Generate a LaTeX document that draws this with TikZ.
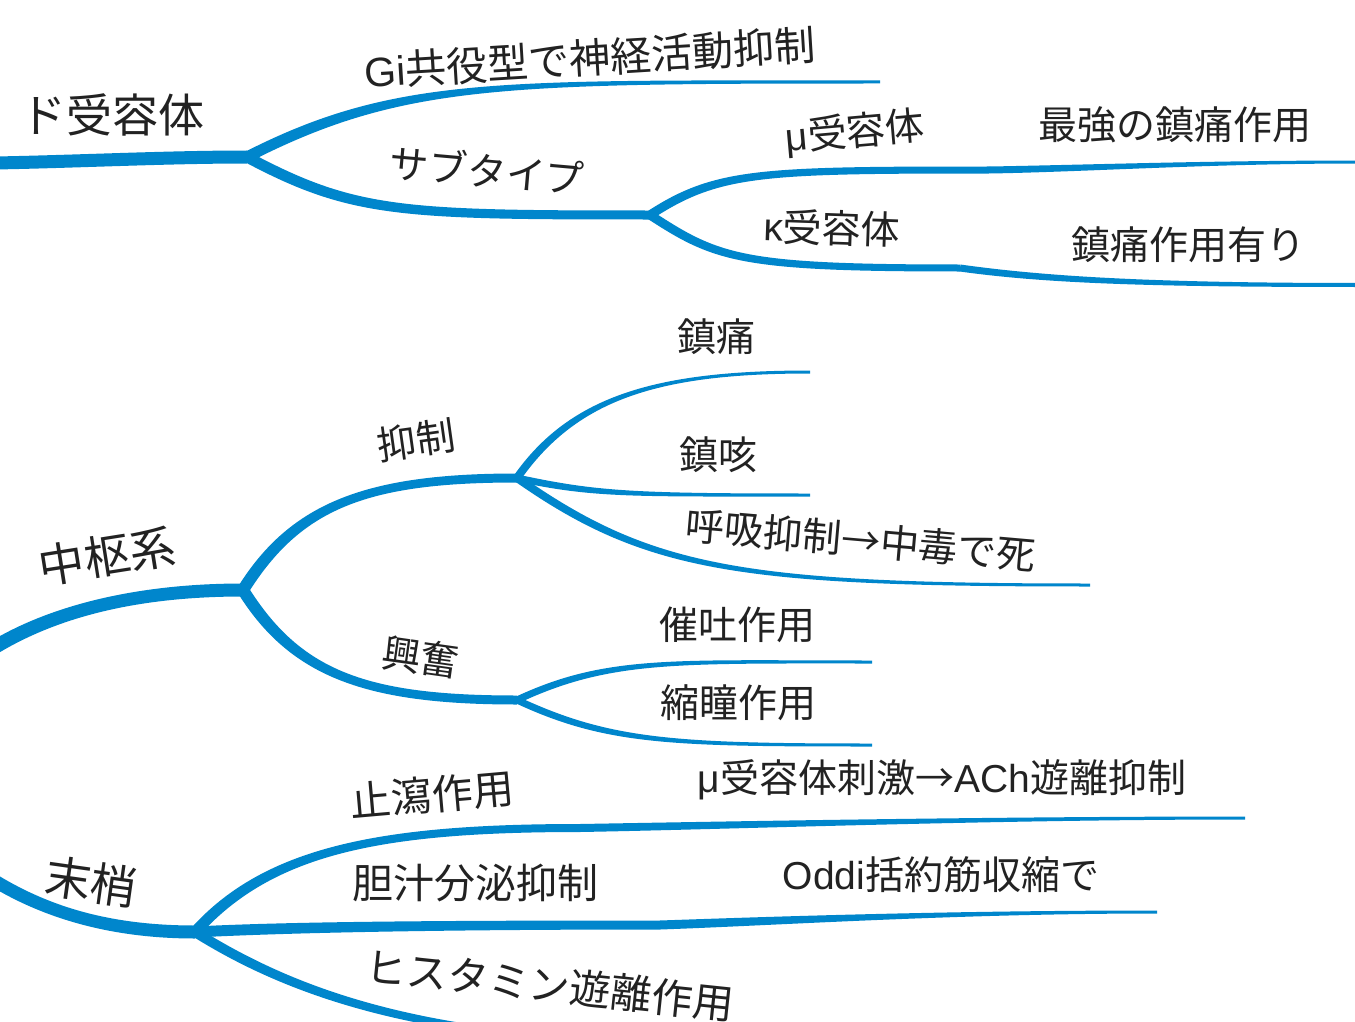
\documentclass[tikz,border=0pt]{standalone}
\usepackage{fontspec}
\setmainfont{Liberation Sans}
\newfontfamily\cjk{Noto Sans CJK JP}
\newfontfamily\lat{Liberation Sans}
\usetikzlibrary{calc}
\definecolor{mmblue}{RGB}{0,134,204}
\definecolor{mmtext}{RGB}{34,34,34}
\tikzset{
  brc/.style={fill=mmblue},
  lbl/.style={inner sep=0pt, text=mmtext, font=\cjk\fontsize{39}{44}\selectfont},
  lblb/.style={lbl, font=\cjk\fontsize{41}{46}\selectfont},
  biglbl/.style={lbl, font=\cjk\fontsize{46}{52}\selectfont},
}
% tapered branch: #1 start, #2 end, #3 start angle, #4 start handle, #5 end handle, #6 start width, #7 end width
\newcommand\tbr[7]{%
  \fill[brc] ($(#1)+(#3+90:#6/2)$)
    .. controls ($(#1)+(#3:#4)+(#3+90:#6/2)$) and ($(#2)+(-#5,#7/2)$)
    .. ($(#2)+(0,#7/2)$)
    -- ($(#2)+(0,-#7/2)$)
    .. controls ($(#2)+(-#5,-#7/2)$) and ($(#1)+(#3:#4)+(#3-90:#6/2)$)
    .. ($(#1)+(#3-90:#6/2)$) -- cycle;}
\begin{document}
\begin{tikzpicture}[x=1pt,y=-1pt]
\clip (0,0) rectangle (1355,1022);
\fill[white] (0,0) rectangle (1355,1022);
% ---------- coordinates ----------
\coordinate (r1) at (-5,163);
\coordinate (j1) at (247,157);
\coordinate (gi) at (880,82);
\coordinate (j2) at (650,215);
\coordinate (mu1) at (990,170);
\coordinate (mu2) at (1360,162);
\coordinate (ka1) at (960,268);
\coordinate (ka2) at (1360,285);
\coordinate (r2) at (-10,650);
\coordinate (j3) at (243,590);
\coordinate (j4) at (517,478);
\coordinate (j5) at (517,700);
\coordinate (t1) at (810,372);
\coordinate (t2) at (810,495);
\coordinate (t3) at (1090,585);
\coordinate (e1) at (872,662);
\coordinate (e2) at (872,745);
\coordinate (r3) at (-10,878);
\coordinate (j6) at (195,932);
\coordinate (p1a) at (580,828);
\coordinate (p1b) at (1245,818);
\coordinate (p2a) at (660,925);
\coordinate (p2b) at (1157,912);
\coordinate (p3) at (680,1042);
% ---------- branches ----------
\tbr{r1}{j1}{-1}{80}{80}{13}{13}
\tbr{j1}{gi}{-27}{170}{380}{11}{3}
\tbr{j1}{j2}{28}{120}{250}{11}{9}
\tbr{j2}{mu1}{-33}{80}{230}{9}{7}
\tbr{mu1}{mu2}{-1}{100}{150}{7}{3}
\tbr{j2}{ka1}{33}{80}{220}{9}{7}
\tbr{ka1}{ka2}{8}{90}{200}{7}{4}
\tbr{r2}{j3}{-32}{70}{110}{14}{13}
\tbr{j3}{j4}{-58}{100}{150}{12}{9}
\tbr{j3}{j5}{58}{100}{150}{12}{9}
\tbr{j4}{t1}{-55}{100}{150}{8}{3}
\tbr{j4}{t2}{12}{80}{180}{7}{3}
\tbr{j4}{t3}{35}{160}{350}{8}{3}
\tbr{j5}{e1}{-25}{100}{200}{7}{3}
\tbr{j5}{e2}{25}{100}{200}{7}{3}
\tbr{r3}{j6}{32}{60}{90}{13}{13}
\tbr{j6}{p1a}{-48}{110}{200}{11}{8}
\tbr{p1a}{p1b}{-1}{150}{250}{8}{3}
\tbr{j6}{p2a}{-3}{100}{200}{11}{9}
\tbr{p2a}{p2b}{-2}{120}{200}{9}{3}
\tbr{j6}{p3}{32}{110}{260}{10}{7}
% ---------- labels ----------
\node[biglbl] (n1) at (112,115) {ド受容体};
\node[lblb, rotate=3.5] (n2) at (590,58) {{\lat Gi}共役型で神経活動抑制};
\node[lbl, rotate=-5] (n3) at (487,170) {サブタイプ};
\node[lbl, rotate=5] (n4) at (855,133) {{\lat μ}受容体};
\node[lbl] (n5) at (1175,125) {最強の鎮痛作用};
\node[lbl, rotate=-2] (n6) at (832,228) {{\lat κ}受容体};
\node[lbl] (n7) at (1188,245) {鎮痛作用有り};
\node[biglbl, rotate=9] (n8) at (107,556) {中枢系};
\node[lbl, rotate=8] (n9) at (416,440) {抑制};
\node[lbl, rotate=-8] (n10) at (421,657) {興奮};
\node[lbl] (n11) at (716,337) {鎮痛};
\node[lbl] (n12) at (718,455) {鎮咳};
\node[lbl, rotate=-5] (n13) at (861,540) {呼吸抑制→中毒で死};
\node[lbl] (n14) at (737,625) {催吐作用};
\node[lbl] (n15) at (738,703) {縮瞳作用};
\node[lblb, rotate=5] (n16) at (432,795) {止瀉作用};
\node[lbl] (n17) at (942,780) {{\lat μ}受容体刺激→{\lat ACh}遊離抑制};
\node[biglbl, rotate=-8] (n18) at (91,882) {末梢};
\node[lblb] (n19) at (475,883) {胆汁分泌抑制};
\node[lbl] (n20) at (941,875) {{\lat Oddi}括約筋収縮で};
\node[lblb, rotate=-6] (n21) at (550,985) {ヒスタミン遊離作用};
\end{tikzpicture}
\end{document}
